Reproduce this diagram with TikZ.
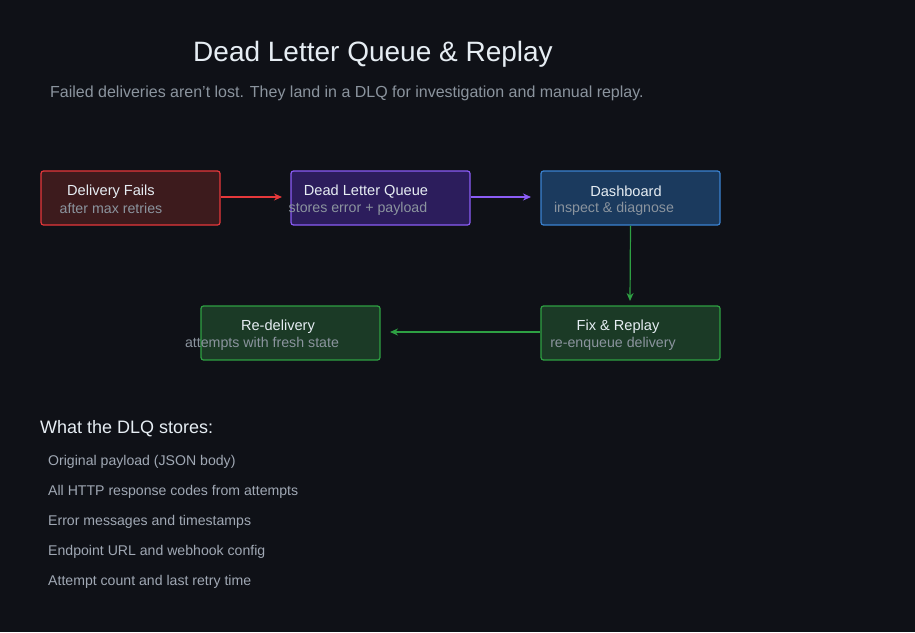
\documentclass[tikz,border=0pt]{standalone}
\usepackage{fontspec}
\setmainfont{Liberation Sans}
\usetikzlibrary{arrows.meta}
\definecolor{bg}{HTML}{0F1117}
\definecolor{txt}{HTML}{E6EDF3}
\definecolor{sub}{HTML}{8B949E}
\definecolor{lst}{HTML}{A0A8B4}
\definecolor{rf}{HTML}{3D1B1D}\definecolor{rb}{HTML}{E5383B}
\definecolor{pf}{HTML}{2C1D5C}\definecolor{pb}{HTML}{8B5CF6}
\definecolor{bf}{HTML}{1B3A5E}\definecolor{bb}{HTML}{3B82D0}
\definecolor{gf}{HTML}{1B3A26}\definecolor{gb}{HTML}{2EA043}
\begin{document}
\begin{tikzpicture}[x=1pt,y=-1pt,
  box/.style={draw=#1,line width=1.2pt,rounded corners=2.5pt,minimum width=179pt,minimum height=54pt,inner sep=0pt},
  ttl/.style={text=txt,font=\fontsize{14.6}{16}\selectfont,inner sep=0pt},
  st/.style={text=sub,font=\fontsize{14.2}{15}\selectfont,inner sep=0pt},
  li/.style={text=lst,font=\fontsize{14.1}{15}\selectfont,anchor=west,inner sep=0pt},
  arr/.style={draw=#1,line width=1.2pt,-{Stealth[length=8pt,width=7pt]}}]
\fill[bg] (0,0) rectangle (915,632);
\useasboundingbox (0,0) rectangle (915,632);
\node[text=txt,font=\fontsize{28}{32}\selectfont,inner sep=0pt] (title) at (373,54) {Dead Letter Queue \& Replay};
\node[text=sub,font=\fontsize{16}{18}\selectfont,anchor=west,inner sep=0pt] (subtitle) at (50,93) {Failed deliveries aren't lost. They land in a DLQ for investigation and manual replay.};
\node[box=rb,fill=rf] (b1) at (130.5,198) {};
\node[box=pb,fill=pf] (b2) at (380.5,198) {};
\node[box=bb,fill=bf] (b3) at (630.5,198) {};
\node[box=gb,fill=gf] (b4) at (630.5,333) {};
\node[box=gb,fill=gf] (b5) at (290.5,333) {};
\node[ttl] (t1) at (111,191.5) {Delivery Fails};
\node[st] (s1) at (111,208.5) {after max retries};
\node[ttl] (t2) at (366,191.5) {Dead Letter Queue};
\node[st] (s2) at (358,208.5) {stores error + payload};
\node[ttl] (t3) at (626,191.5) {Dashboard};
\node[st] (s3) at (614,208.5) {inspect \& diagnose};
\node[ttl] (t4) at (618,326.5) {Fix \& Replay};
\node[st] (s4) at (613,343.5) {re-enqueue delivery};
\node[ttl] (t5) at (278,326.5) {Re-delivery};
\node[st] (s5) at (262,343.5) {attempts with fresh state};
\coordinate (e1) at (282,197);
\coordinate (e2) at (531,197);
\coordinate (e3) at (630,301);
\coordinate (e4) at (390,332);
\draw[arr=rb] (b1.east|-e1) -- (e1);
\draw[arr=pb] (b2.east|-e2) -- (e2);
\draw[arr=gb] (b3.south) -- (e3);
\draw[arr=gb] (b4.west|-e4) -- (e4);
\node[text=txt,font=\fontsize{18}{20}\selectfont,anchor=west,inner sep=0pt] (h) at (40,429) {What the DLQ stores:};
\node[li] (l1) at (48,462) {Original payload (JSON body)};
\node[li] (l2) at (48,492) {All HTTP response codes from attempts};
\node[li] (l3) at (48,522) {Error messages and timestamps};
\node[li] (l4) at (48,552) {Endpoint URL and webhook config};
\node[li] (l5) at (48,582) {Attempt count and last retry time};
\end{tikzpicture}
\end{document}
